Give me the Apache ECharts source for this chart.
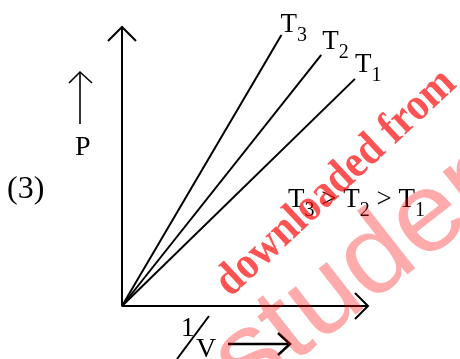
<!DOCTYPE html>
<html>
<head>
<meta charset="utf-8">
<script src="https://cdn.jsdelivr.net/npm/echarts@6/dist/echarts.min.js"></script>
<style>
  html, body { margin: 0; background: #fff; }
  #chart { width: 460px; height: 359px; }
</style>
</head>
<body>
<div id="chart"></div>
<script>
// P against 1/V: three isotherms, straight lines through the origin
const isoNames = ['T3', 'T2', 'T1']
const isoSubs = ['3', '2', '1']
const isoEnds = [[6.48, 9.71], [8.1, 9.0], [9.47, 8.14]]
const axisMax = [10, 10]

const serif = 'Liberation Serif'
const black = '#000'

const chart = echarts.init(document.getElementById('chart'))

function seg(data, w) {
  return {
    type: 'line', data, symbol: 'none', clip: false, silent: true,
    lineStyle: { color: black, width: w }, z: 2
  }
}

const series = [seg([[0, axisMax[1]], [0, 0], [axisMax[0], 0]], 2)]
  .concat(isoNames.map((n, i) => Object.assign(seg([[0, 0], isoEnds[i]], 2), { name: n })))

chart.setOption({
  animation: false,
  backgroundColor: '#fff',
  grid: { left: 122, top: 27, width: 246, height: 279 },
  xAxis: { type: 'value', min: 0, max: axisMax[0], show: false },
  yAxis: { type: 'value', min: 0, max: axisMax[1], show: false },
  series
})

const rich = {
  t: { fontFamily: serif, fontSize: 27, lineHeight: 27, fill: black },
  s: { fontFamily: serif, fontSize: 20, lineHeight: 20, fill: black, padding: [22, 0, 0, 0] }
}

function label(text, x, y, size) {
  return {
    type: 'text', x, y, z: 5,
    style: {
      text, rich, fill: black, fontFamily: serif, fontSize: size || 28,
      align: 'left', verticalAlign: 'middle'
    }
  }
}

function path(points, w) {
  return { type: 'polyline', z: 5, shape: { points }, style: { stroke: black, lineWidth: w, fill: 'none' } }
}

const px = p => chart.convertToPixel({ gridIndex: 0 }, p)

// open arrow heads on the two axes
const xTip = px([axisMax[0], 0])
const yTip = px([0, axisMax[1]])
const graphics = [
  path([[xTip[0] - 13, xTip[1] - 13], xTip, [xTip[0] - 13, xTip[1] + 13]], 2),
  path([[yTip[0] - 14, yTip[1] + 14], yTip, [yTip[0] + 14, yTip[1] + 14]], 2)
]

// label nudges from each line's end
const nudge = [[-1, -10], [1, -13], [0, -14]]
isoEnds.forEach((p, i) => {
  const e = px(p)
  graphics.push(label('{t|T}{s|' + isoSubs[i] + '}', e[0] + nudge[i][0], e[1] + nudge[i][1]))
})

graphics.push(
  label('{t|T}{s|3}{t| > T}{s|2}{t| > T}{s|1}', 288, 199.5),
  label('(3)', 7, 190, 32),
  label('P', 75, 147.5),
  label('1', 181, 329, 27),
  label('V', 196, 350),
  path([[80, 124], [80, 72]], 1.6),
  path([[69, 83], [80, 72], [92, 83]], 1.6),
  path([[177, 359], [209, 316]], 2),
  path([[228, 344], [290, 344]], 2.5),
  path([[278, 333], [290, 344], [278, 355]], 2.5)
)

// watermark: red serif line
graphics.push({
  type: 'text', x: 336, y: 183, rotation: 43 * Math.PI / 180, scaleX: 0.9, z: 10, silent: true,
  style: {
    text: 'downloaded from', fontFamily: serif, fontWeight: 'bold', fontSize: 46,
    fill: 'rgba(255,0,0,0.68)', align: 'center', verticalAlign: 'middle'
  }
})

// watermark: big pale sans word
graphics.push({
  type: 'text', x: 227, y: 376, rotation: 38 * Math.PI / 180, scaleX: 1.05, scaleY: 1, z: 10, silent: true,
  style: {
    text: 'student', fontFamily: 'Liberation Sans', fontSize: 112,
    fill: 'rgba(255,0,0,0.33)', align: 'left', verticalAlign: 'middle'
  }
})

chart.setOption({ graphic: graphics })
</script>
</body>
</html>
